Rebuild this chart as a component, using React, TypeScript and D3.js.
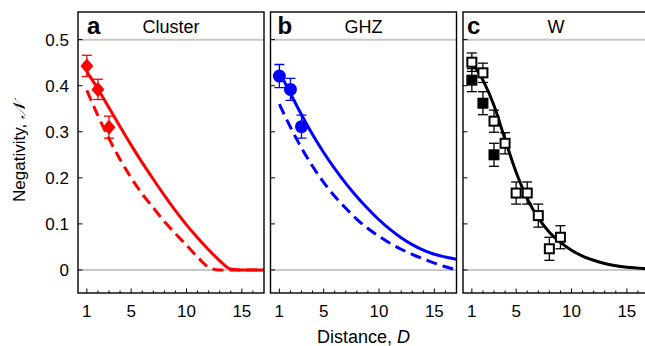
import React from 'react';
import * as d3 from 'd3';

// distances on the fine grid used for the theory curves
const curveD = [1, 2, 3, 4, 5, 6, 7, 8, 9, 10, 11, 12, 13, 14, 15, 16, 17];

// panel a: cluster
const clusterSolid = [0.43, 0.393, 0.352, 0.311, 0.271, 0.233, 0.197, 0.162, 0.129, 0.098, 0.07, 0.044, 0.02, 0.002, 0, 0, 0];
const clusterDashed = [0.39, 0.335, 0.285, 0.24, 0.2, 0.165, 0.135, 0.105, 0.079, 0.054, 0.028, 0.006, 0, 0, 0, 0, 0];
const clusterD = [1, 2, 3];
const clusterVal = [0.443, 0.392, 0.31];
const clusterErr = [0.023, 0.022, 0.024];

// panel b: GHZ
const ghzSolid = [0.43, 0.383, 0.337, 0.294, 0.255, 0.22, 0.188, 0.159, 0.133, 0.109, 0.088, 0.07, 0.055, 0.043, 0.034, 0.028, 0.023];
const ghzDashed = [0.36, 0.31, 0.265, 0.225, 0.19, 0.16, 0.134, 0.11, 0.09, 0.073, 0.058, 0.045, 0.034, 0.024, 0.015, 0.007, 0];
const ghzD = [1, 2, 3];
const ghzVal = [0.421, 0.392, 0.311];
const ghzErr = [0.025, 0.024, 0.025];

// panel c: W
const wSolid = [0.45, 0.412, 0.357, 0.283, 0.212, 0.155, 0.113, 0.082, 0.06, 0.043, 0.03, 0.021, 0.014, 0.009, 0.006, 0.004, 0.002];
const wOpenD = [1, 2, 3, 4, 5, 6, 7, 8, 9];
const wOpenVal = [0.451, 0.428, 0.323, 0.275, 0.167, 0.167, 0.118, 0.046, 0.071];
const wOpenErr = [0.02, 0.021, 0.024, 0.023, 0.024, 0.024, 0.025, 0.025, 0.025];
const wFillD = [1, 2, 3];
const wFillVal = [0.412, 0.362, 0.25];
const wFillErr = [0.025, 0.025, 0.025];

const yTicks = [0, 0.1, 0.2, 0.3, 0.4, 0.5];
const yTickLabels = ['0', '0.1', '0.2', '0.3', '0.4', '0.5'];
const xMajor = [1, 5, 10, 15];
const xMinor = [2, 3, 4, 6, 7, 8, 9, 11, 12, 13, 14, 16];

const FONT = '"Liberation Sans", Arial, Helvetica, sans-serif';
const top = 12;
const bottom = 293;
const panelW = 186;

const y = d3.scaleLinear().domain([-0.05, 0.56]).range([bottom, top]);

type Pt = { d: number; v: number; e?: number };

const zip = (ds: number[], vs: number[], es?: number[]): Pt[] =>
  ds.map((d, i) => ({ d, v: vs[i], e: es ? es[i] : undefined }));

const panels = [
  {
    key: 'a', title: 'Cluster', left: 78, letterDx: 9, color: '#ff0000',
    solid: zip(curveD, clusterSolid), dashed: zip(curveD, clusterDashed),
    points: zip(clusterD, clusterVal, clusterErr), marker: 'diamond',
  },
  {
    key: 'b', title: 'GHZ', left: 270.5, letterDx: 7, color: '#0000ff',
    solid: zip(curveD, ghzSolid), dashed: zip(curveD, ghzDashed),
    points: zip(ghzD, ghzVal, ghzErr), marker: 'circle',
  },
  {
    key: 'c', title: 'W', left: 463, letterDx: 4, color: '#000000',
    solid: zip(curveD, wSolid), dashed: null,
    points: zip(wOpenD, wOpenVal, wOpenErr), marker: 'openSquare',
    filled: zip(wFillD, wFillVal, wFillErr),
  },
];

function ErrorBars({ pts, x, color }: { pts: Pt[]; x: d3.ScaleLinear<number, number>; color: string }) {
  return (
    <g stroke={color} strokeWidth={1.3}>
      {pts.map((p, i) => {
        const cx = x(p.d);
        const y1 = y(p.v + (p.e || 0));
        const y2 = y(p.v - (p.e || 0));
        return (
          <g key={i}>
            <line x1={cx} x2={cx} y1={y1} y2={y2} />
            <line x1={cx - 5} x2={cx + 5} y1={y1} y2={y1} />
            <line x1={cx - 5} x2={cx + 5} y1={y2} y2={y2} />
          </g>
        );
      })}
    </g>
  );
}

function Panel({ p }: { p: any }) {
  const x = d3.scaleLinear().domain([0.2, 17]).range([p.left, p.left + panelW]);
  const line = d3.line<Pt>().x(d => x(d.d)).y(d => y(d.v)).curve(d3.curveMonotoneX);
  const clipId = `clip-${p.key}`;
  const cx = p.left + panelW / 2;
  return (
    <g>
      <defs>
        <clipPath id={clipId}>
          <rect x={p.left} y={top} width={panelW} height={bottom - top} />
        </clipPath>
      </defs>
      <line x1={p.left} x2={p.left + panelW} y1={y(0)} y2={y(0)} stroke="#c8c8c8" strokeWidth={2} />
      <line x1={p.left} x2={p.left + panelW} y1={y(0.5)} y2={y(0.5)} stroke="#c8c8c8" strokeWidth={2} />
      <g clipPath={`url(#${clipId})`}>
        {p.dashed && (
          <path d={line(p.dashed) || ''} fill="none" stroke={p.color} strokeWidth={3} strokeDasharray="11,6" />
        )}
        <path d={line(p.solid) || ''} fill="none" stroke={p.color} strokeWidth={3} />
        {p.filled && (
          <g>
            <ErrorBars pts={p.filled} x={x} color={p.color} />
            {p.filled.map((q: Pt, i: number) => (
              <rect key={i} x={x(q.d) - 5.5} y={y(q.v) - 5.5} width={11} height={11} fill="#000" />
            ))}
          </g>
        )}
        <ErrorBars pts={p.points} x={x} color={p.color} />
        {p.points.map((q: Pt, i: number) => {
          const px = x(q.d);
          const py = y(q.v);
          if (p.marker === 'diamond') {
            return (
              <path key={i} d={`M${px},${py - 7.5}L${px + 6.5},${py}L${px},${py + 7.5}L${px - 6.5},${py}Z`} fill={p.color} />
            );
          }
          if (p.marker === 'circle') {
            return <circle key={i} cx={px} cy={py} r={6.5} fill={p.color} />;
          }
          return (
            <rect key={i} x={px - 4.5} y={py - 4.5} width={9} height={9} fill="#fff" stroke="#000" strokeWidth={2} />
          );
        })}
      </g>
      {/* ticks */}
      <g stroke="#000" strokeWidth={1}>
        {yTicks.map(t => (
          <line key={t} x1={p.left} x2={p.left + 4.5} y1={y(t)} y2={y(t)} />
        ))}
        {xMajor.map(t => (
          <line key={t} x1={x(t)} x2={x(t)} y1={bottom} y2={bottom - 4.5} />
        ))}
        {xMinor.map(t => (
          <line key={t} x1={x(t)} x2={x(t)} y1={bottom} y2={bottom - 2.5} />
        ))}
      </g>
      <rect x={p.left} y={top} width={panelW} height={bottom - top} fill="none" stroke="#000" strokeWidth={1.4} />
      <g fontFamily={FONT} fontSize={17} textAnchor="middle" fill="#000">
        {xMajor.map(t => (
          <text key={t} x={x(t)} y={317}>{t}</text>
        ))}
      </g>
      <text x={p.left + p.letterDx} y={34} fontFamily={FONT} fontSize={24} fontWeight="bold">{p.key}</text>
      <text x={cx} y={33} fontFamily={FONT} fontSize={18} textAnchor="middle">{p.title}</text>
    </g>
  );
}

export default function App() {
  return (
    <svg width={645} height={346} style={{ position: 'absolute', left: 0, top: 0, background: '#fff' }}>
      <rect width={645} height={346} fill="#fff" />
      {panels.map(p => (
        <Panel key={p.key} p={p} />
      ))}
      <g fontFamily={FONT} fontSize={17} textAnchor="end">
        {yTicks.map((t, i) => (
          <text key={t} x={69} y={y(t) + 6}>{yTickLabels[i]}</text>
        ))}
      </g>
      <text transform={`translate(25,${(top + bottom) / 2}) rotate(-90)`} textAnchor="middle" fontFamily={FONT} fontSize={17}>
        Negativity, <tspan fontStyle="italic" fontFamily='"DejaVu Serif", serif'>𝒩</tspan>
      </text>
      <text x={363.5} y={343} textAnchor="middle" fontFamily={FONT} fontSize={18}>
        Distance, <tspan fontStyle="italic">D</tspan>
      </text>
    </svg>
  );
}
